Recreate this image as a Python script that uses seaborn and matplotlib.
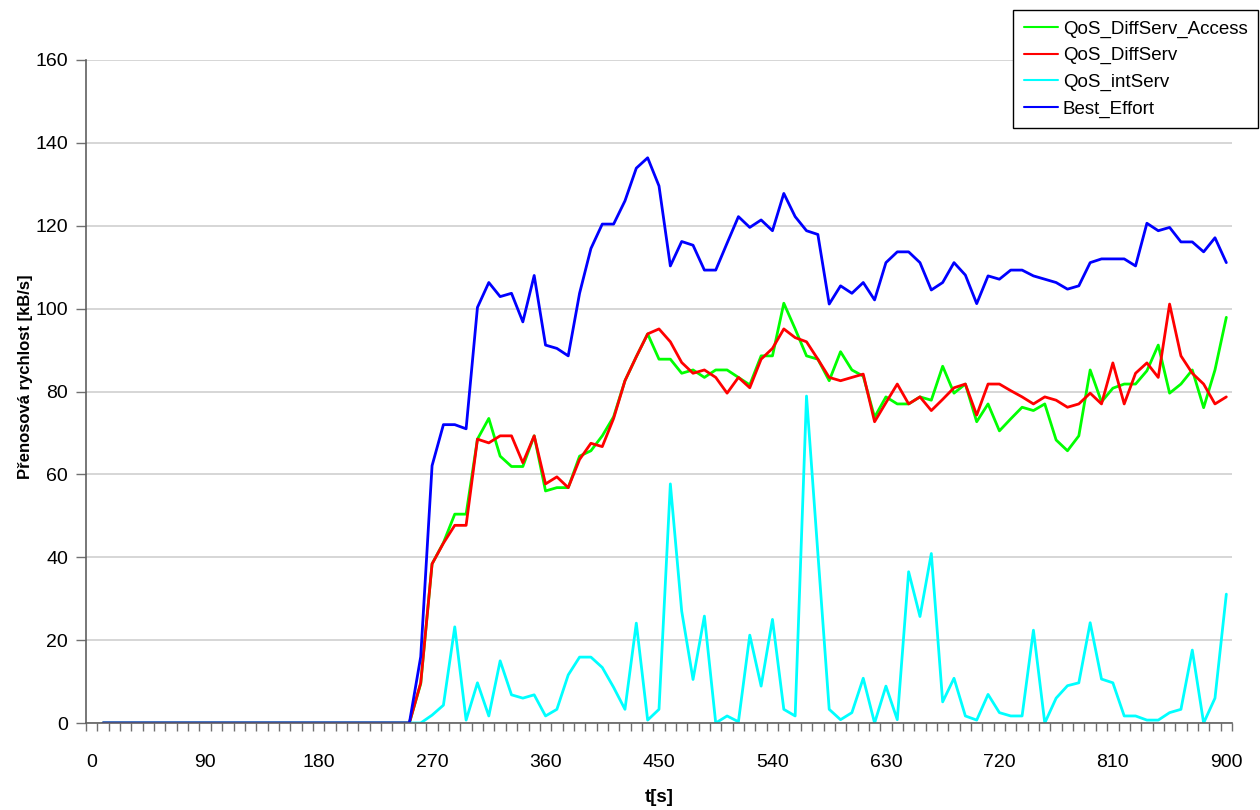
import numpy as np
import pandas as pd
import matplotlib
matplotlib.use("Agg")
import matplotlib.pyplot as plt
from matplotlib import font_manager
import seaborn as sns

# Sampling instants (s), one sample every 9 s
time_s = list(range(9, 901, 9))

# Throughput in kB/s for each scenario
idle = [0, 0, 0, 0, 0, 0, 0, 0, 0, 0, 0, 0, 0, 0,
        0, 0, 0, 0, 0, 0, 0, 0, 0, 0, 0, 0, 0, 0]

diffserv_access = idle + [
    9.5, 38.4, 43.5, 50.4, 50.4, 68.5, 73.5, 64.4, 61.9, 61.9, 69.3, 56.0,
    56.8, 56.8, 64.4, 65.7, 69.3, 73.9, 82.6, 88.4, 93.9, 87.8, 87.8, 84.4,
    85.2, 83.4, 85.2, 85.2, 83.4, 81.6, 88.6, 88.6, 101.3, 95.1, 88.6, 87.8,
    82.6, 89.6, 85.2, 83.7, 73.8, 78.7, 77.0, 77.0, 78.7, 77.9, 86.1, 79.6,
    81.8, 72.7, 77.0, 70.5, 73.4, 76.2, 75.4, 77.0, 68.3, 65.7, 69.3, 85.2,
    77.5, 80.8, 81.8, 81.8, 85.0, 91.2, 79.6, 81.8, 85.2, 76.1, 85.2, 97.9]

diffserv = idle + [
    9.7, 38.4, 43.4, 47.7, 47.7, 68.5, 67.6, 69.3, 69.3, 62.8, 69.3, 57.7,
    59.4, 56.8, 63.6, 67.5, 66.7, 73.5, 82.6, 88.4, 93.9, 95.1, 92.0, 87.0,
    84.4, 85.2, 83.4, 79.6, 83.4, 80.9, 87.8, 90.4, 95.1, 93.0, 92.0, 87.8,
    83.4, 82.6, 83.4, 84.2, 72.7, 77.3, 81.8, 77.0, 78.7, 75.4, 78.1, 80.9,
    81.8, 74.3, 81.8, 81.8, 80.2, 78.7, 77.0, 78.7, 77.9, 76.2, 77.0, 79.6,
    77.0, 86.9, 77.0, 84.4, 86.9, 83.4, 101.1, 88.6, 84.4, 81.8, 77.0, 78.7]

intserv = idle + [
    0.0, 1.9, 4.3, 23.2, 0.7, 9.7, 1.7, 15.0, 6.8, 6.0, 6.8, 1.7,
    3.3, 11.6, 15.9, 15.9, 13.4, 8.6, 3.3, 24.1, 0.7, 3.3, 57.7, 27.0,
    10.5, 25.8, 0.0, 1.7, 0.3, 21.2, 8.9, 25.0, 3.3, 1.7, 78.9, 41.0,
    3.3, 0.8, 2.5, 10.8, 0.0, 8.9, 0.8, 36.5, 25.7, 40.9, 5.1, 10.8,
    1.7, 0.7, 6.9, 2.5, 1.7, 1.7, 22.4, 0.0, 6.0, 9.0, 9.7, 24.2,
    10.6, 9.7, 1.7, 1.7, 0.7, 0.7, 2.5, 3.3, 17.6, 0.0, 6.0, 31.1]

best_effort = idle + [
    16.0, 62.1, 72.0, 72.0, 71.0, 100.3, 106.3, 102.9, 103.7, 96.8, 108.0, 91.2,
    90.4, 88.6, 103.7, 114.5, 120.4, 120.4, 126.0, 133.9, 136.4, 129.6, 110.3, 116.2,
    115.3, 109.3, 109.3, 115.8, 122.2, 119.6, 121.4, 118.8, 127.8, 122.2, 118.8, 117.9,
    101.1, 105.5, 103.7, 106.3, 102.1, 111.1, 113.7, 113.7, 111.1, 104.5, 106.3, 111.1,
    108.1, 101.2, 107.9, 107.1, 109.3, 109.3, 107.9, 107.1, 106.3, 104.7, 105.5, 111.1,
    112.0, 112.0, 112.0, 110.3, 120.6, 118.8, 119.6, 116.1, 116.1, 113.7, 117.1, 111.1]

series_names = ["QoS_DiffServ_Access", "QoS_DiffServ", "QoS_intServ", "Best_Effort"]
series_colors = ["#00FF00", "#FF0000", "#00FFFF", "#0000FF"]
x_labels = [0, 90, 180, 270, 360, 450, 540, 630, 720, 810, 900]
y_ticks = [0, 20, 40, 60, 80, 100, 120, 140, 160]

frames = []
for name, vals in zip(series_names, [diffserv_access, diffserv, intserv, best_effort]):
    frames.append(pd.DataFrame({"t": time_s, "rate": vals, "series": name}))
df = pd.concat(frames, ignore_index=True)

sns.set_theme(style="white")
installed = {f.name for f in font_manager.fontManager.ttflist}
base_font = "Liberation Sans" if "Liberation Sans" in installed else "DejaVu Sans"
narrow_font = "Liberation Sans Narrow" if "Liberation Sans Narrow" in installed else base_font
plt.rcParams["font.family"] = [base_font, "DejaVu Sans"]
plt.rcParams["text.color"] = "black"
plt.rcParams["axes.labelcolor"] = "black"

fig = plt.figure(figsize=(12.6, 8.1), dpi=100)
ax = fig.add_axes([86 / 1260, 1 - 723 / 810, (1232 - 86) / 1260, (723 - 60) / 810])

sns.lineplot(data=df, x="t", y="rate", hue="series", hue_order=series_names,
             palette=series_colors, linewidth=2.0, ax=ax, legend=True)

ax.set_xlim(-4.5, 904.5)
ax.set_ylim(0, 160)

# Category boundaries carry the tick marks, labels sit on the category centres
ax.set_xticks(np.arange(-4.5, 905, 9))
ax.set_xticklabels([])
ax.set_xticks(x_labels, minor=True)
ax.set_xticklabels([str(v) for v in x_labels], minor=True, fontsize=14)
ax.tick_params(axis="x", which="major", direction="out", length=6, width=1,
               color="#707070", bottom=True)
ax.tick_params(axis="x", which="minor", length=0, pad=22, bottom=True,
               labelcolor="black")

ax.set_yticks(y_ticks)
ax.set_yticklabels([str(v) for v in y_ticks], fontsize=14)
ax.tick_params(axis="y", which="major", direction="out", length=7, width=1,
               color="#707070", left=True, pad=6, labelcolor="black")

ax.yaxis.grid(True, color="#d0d0d0", linewidth=1.2)
ax.xaxis.grid(False)
ax.set_axisbelow(True)
for side in ["top", "right"]:
    ax.spines[side].set_visible(False)
for side in ["left", "bottom"]:
    ax.spines[side].set_color("#606060")
    ax.spines[side].set_linewidth(1.2)

ax.set_ylabel("Přenosová rychlost [kB/s]", fontsize=12, fontweight="bold",
              family=[narrow_font, "DejaVu Sans"])
ax.yaxis.set_label_coords(-0.046, 0.522)
ax.set_xlabel("t[s]", fontsize=13.5, fontweight="bold")
ax.xaxis.set_label_coords(0.5, -0.1)

handles, labels = ax.get_legend_handles_labels()
ax.get_legend().remove()
leg = fig.legend(handles, labels, loc="upper right",
                 bbox_to_anchor=(1258 / 1260, 1 - 10 / 810),
                 bbox_transform=fig.transFigure, fontsize=13.5, frameon=True,
                 fancybox=False, edgecolor="black", framealpha=1,
                 handlelength=1.85, handletextpad=0.25, borderpad=0.55,
                 labelspacing=0.5, borderaxespad=0)
leg.get_frame().set_linewidth(1.0)
for line in leg.get_lines():
    line.set_linewidth(1.5)

fig.savefig("out.png", dpi=100)
